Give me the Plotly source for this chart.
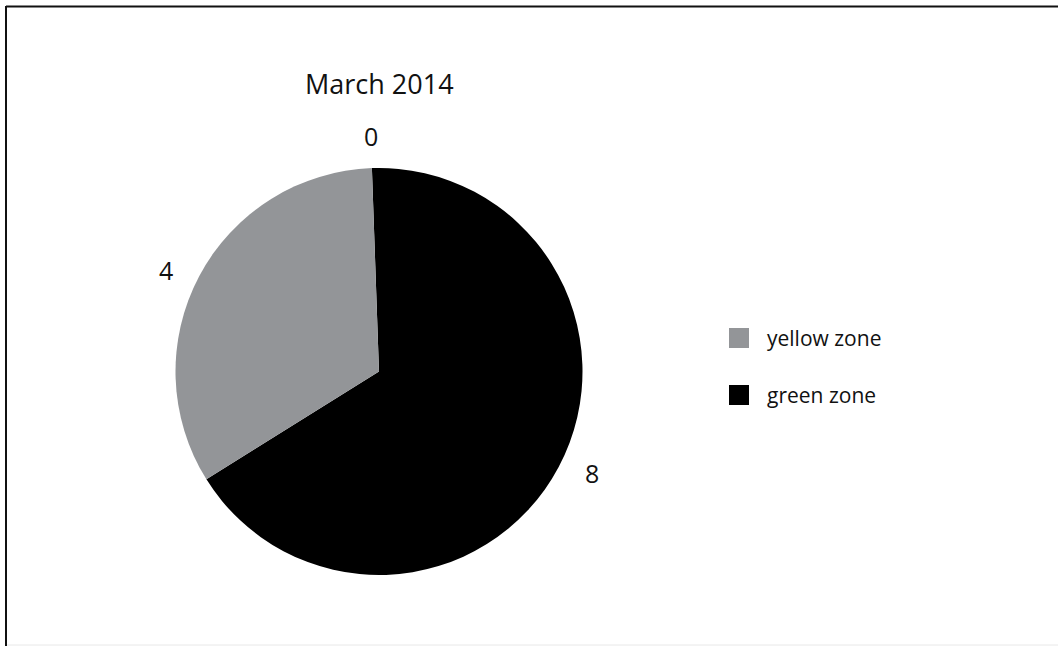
import math
import plotly.graph_objects as go

# ---- data ----
title_text = "March 2014"
slice_labels = ["green zone", "yellow zone", "red zone"]
slice_values = [8, 4, 0]
slice_colors = ["#000000", "#939598", "#e31a1c"]
legend_labels = ["yellow zone", "green zone"]
legend_colors = ["#939598", "#000000"]

W, H = 1058, 646
FONT = "'Open Sans', Lato, sans-serif"

# pie placement (pixels)
cx, cy, R = 379, 371.5, 203.5
rotation = -2
label_r = 236
label_shift = -2.5

def px(x):
    return x / W

def py(y):
    return 1 - y / H

fig = go.Figure()
fig.add_trace(go.Pie(
    labels=slice_labels,
    values=slice_values,
    marker=dict(colors=slice_colors, line=dict(width=0)),
    sort=False,
    direction="clockwise",
    rotation=rotation,
    textinfo="none",
    hoverinfo="label+value",
    showlegend=False,
    domain=dict(x=[px(cx - R), px(cx + R)], y=[py(cy + R), py(cy - R)]),
))

annotations = []
# title
annotations.append(dict(text=title_text, x=px(cx), y=py(83), xref="paper", yref="paper",
                        showarrow=False, xanchor="center", yanchor="middle",
                        font=dict(family=FONT, size=27, color="#111111")))

# data labels computed from values
total = sum(slice_values)
start = rotation
for v in slice_values:
    span = v / total * 360
    mid = start + span / 2 + (label_shift if v > 0 else 0)
    a = math.radians(mid)
    lx = cx + label_r * math.sin(a)
    ly = cy - label_r * math.cos(a)
    annotations.append(dict(text=str(v), x=px(lx), y=py(ly), xref="paper", yref="paper",
                            showarrow=False, xanchor="center", yanchor="middle",
                            font=dict(family=FONT, size=25, color="#111111")))
    start += span

# custom legend
shapes = []
leg_x, leg_y0, leg_dy, box = 729, 338, 57, 20
for i, (lab, col) in enumerate(zip(legend_labels, legend_colors)):
    yc = leg_y0 + i * leg_dy
    shapes.append(dict(type="rect", xref="paper", yref="paper",
                       x0=px(leg_x), x1=px(leg_x + box), y0=py(yc + box / 2), y1=py(yc - box / 2),
                       fillcolor=col, line=dict(width=0)))
    annotations.append(dict(text=lab, x=px(765), y=py(yc), xref="paper", yref="paper",
                            showarrow=False, xanchor="left", yanchor="middle",
                            font=dict(family=FONT, size=21, color="#111111")))

# frame
shapes.append(dict(type="line", xref="paper", yref="paper", x0=px(6), x1=px(W), y0=py(6.5), y1=py(6.5),
                   line=dict(color="#111111", width=2)))
shapes.append(dict(type="line", xref="paper", yref="paper", x0=px(6), x1=px(6), y0=py(6), y1=py(H),
                   line=dict(color="#111111", width=2)))
shapes.append(dict(type="line", xref="paper", yref="paper", x0=px(7), x1=px(W), y0=py(645), y1=py(645),
                   line=dict(color="#e8e8e8", width=1)))

fig.update_layout(
    width=W, height=H,
    margin=dict(l=0, r=0, t=0, b=0),
    paper_bgcolor="white", plot_bgcolor="white",
    annotations=annotations, shapes=shapes,
    showlegend=False,
)

fig.write_html("out.html")
